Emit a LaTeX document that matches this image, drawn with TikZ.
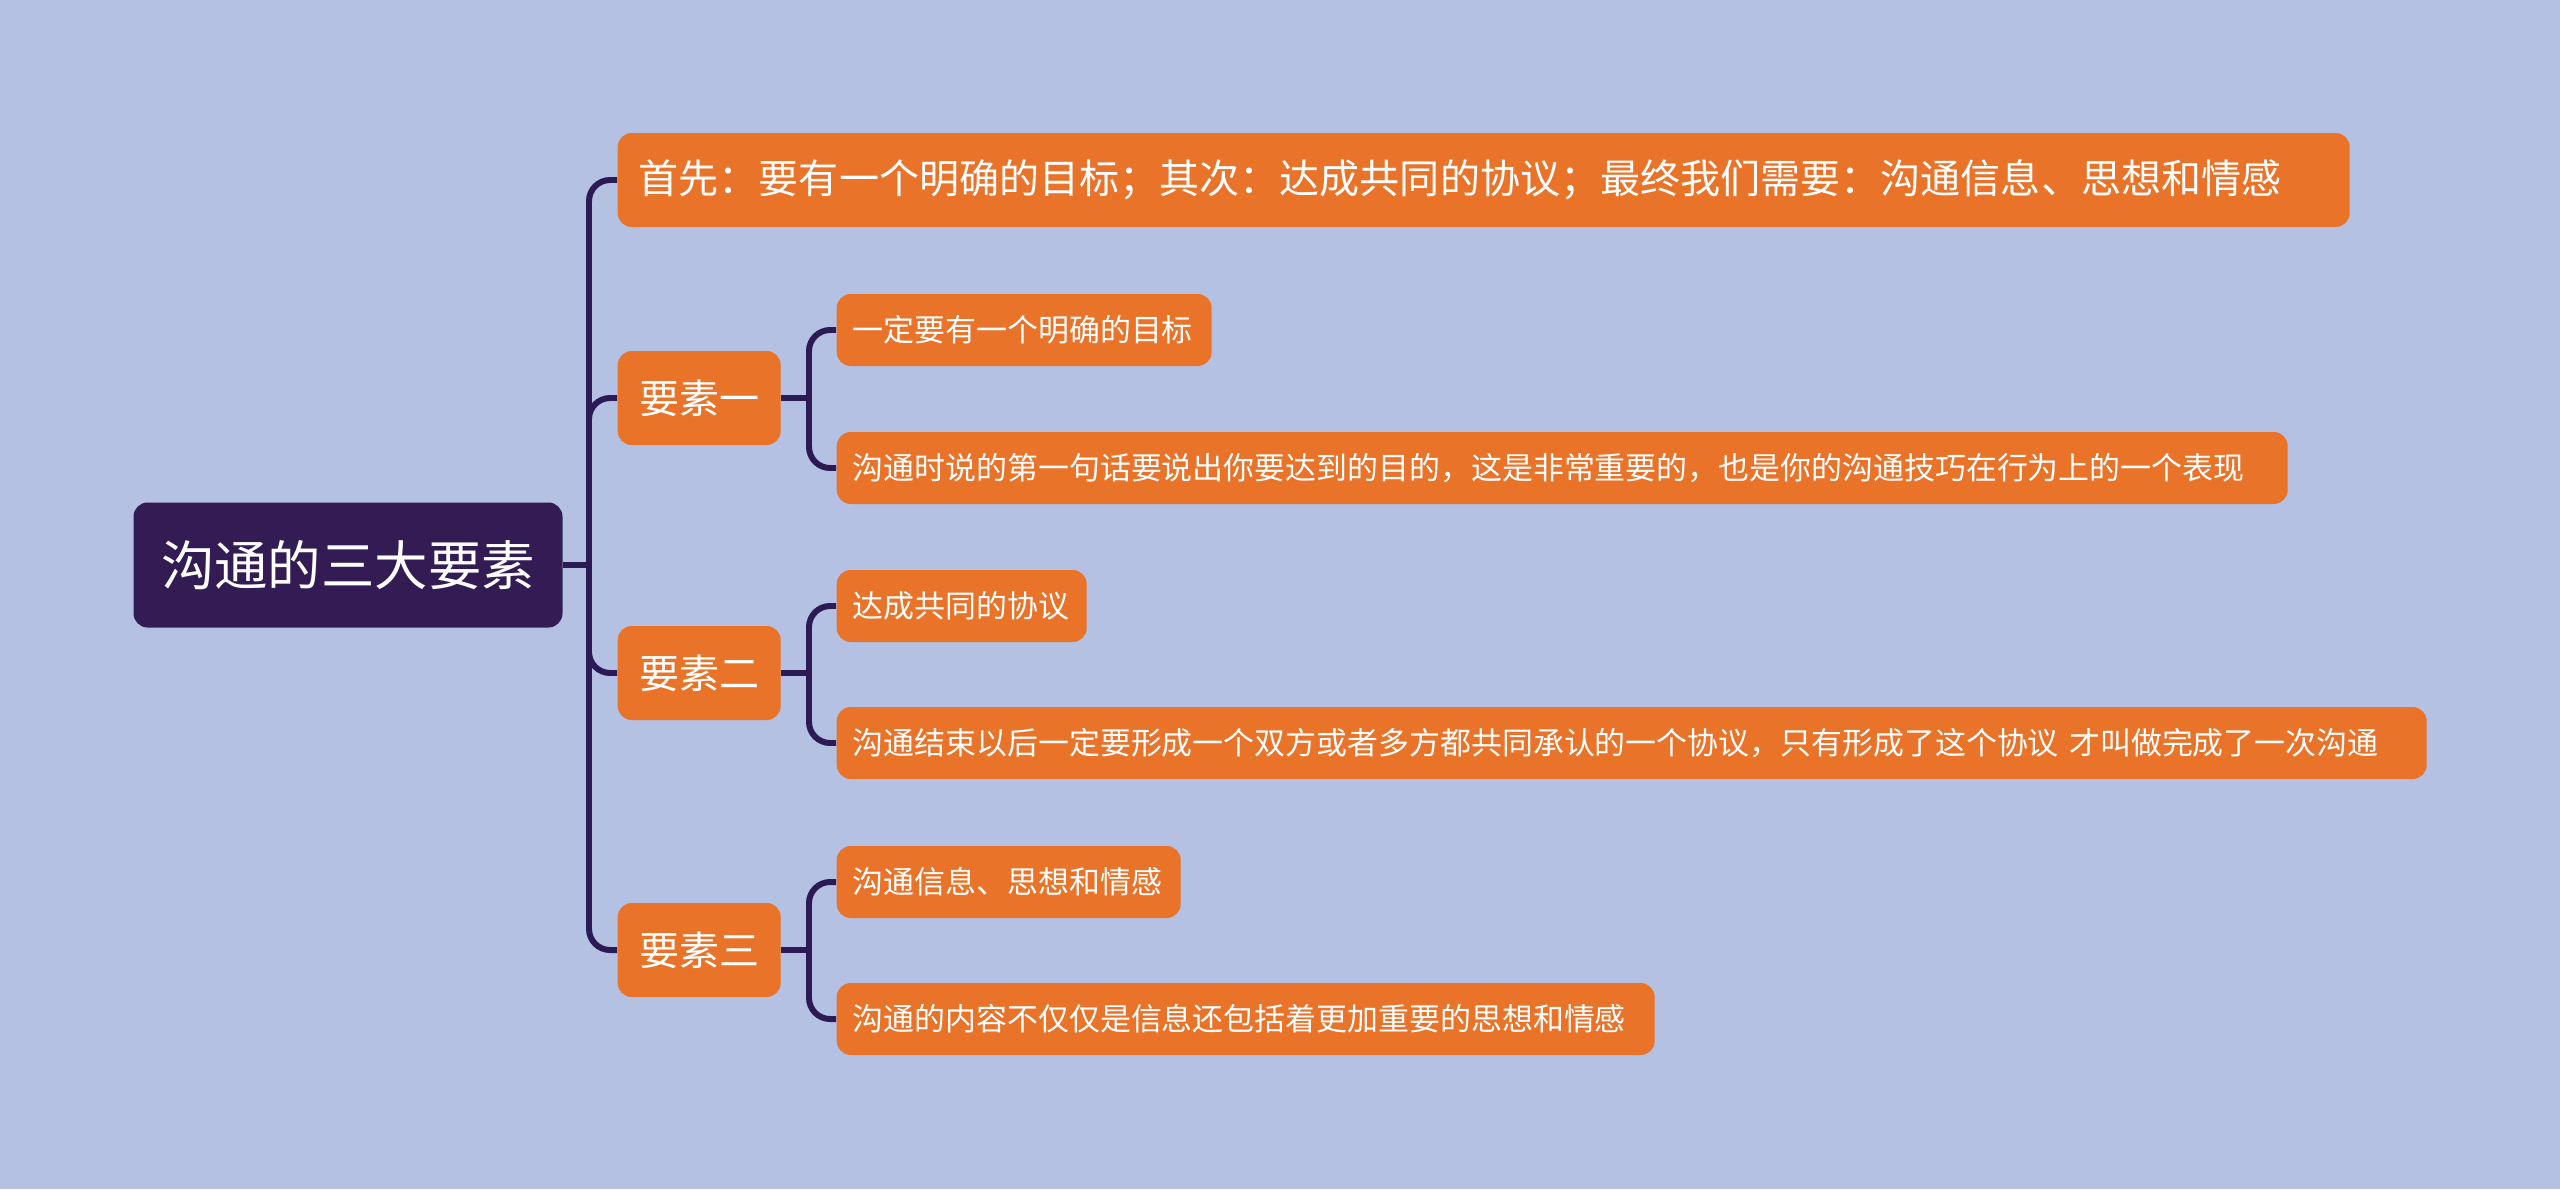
\documentclass[tikz,border=0pt]{standalone}
\usepackage{fontspec}
\usepackage{tikz}
\newfontfamily\cjk{Noto Sans CJK SC}
\definecolor{bgblue}{HTML}{B4C1E3}
\definecolor{mmorange}{HTML}{E97329}
\definecolor{mmpurple}{HTML}{331C53}
\definecolor{mmline}{HTML}{2C1A55}

\begin{document}
\begin{tikzpicture}[every node/.style={rounded corners=4pt, text=white, inner ysep=0pt, font=\cjk},
  rootbox/.style={fill=mmpurple, minimum width=4.29cm, minimum height=1.25cm, font=\cjk\fontsize{15.2}{18}\selectfont},
  topicbox/.style={fill=mmorange, anchor=west, inner xsep=0.21cm, minimum width=1.63cm, minimum height=0.94cm, font=\cjk\fontsize{11.4}{14}\selectfont},
  leafbox/.style={fill=mmorange, anchor=west, inner xsep=0.16cm, minimum height=0.72cm, align=left, font=\cjk\fontsize{8.8}{11}\selectfont},
  link/.style={draw=mmline, line width=1.7pt, rounded corners=6pt}]
\fill[bgblue] (0,0) rectangle (25.6,-11.89);
\node[rootbox] (root) at (3.48,-5.65) {沟通的三大要素};
\node[topicbox, text width=16.9cm, align=left] (t0) at (6.17,-1.80) {首先：要有一个明确的目标；其次：达成共同的协议；最终我们需要：沟通信息、思想和情感};
\node[topicbox] (t1) at (6.17,-3.98) {要素一};
\node[topicbox] (t2) at (6.17,-6.73) {要素二};
\node[topicbox] (t3) at (6.17,-9.50) {要素三};
\node[leafbox, text width=3.43cm] (t11) at (8.36,-3.30) {一定要有一个明确的目标};
\node[leafbox, text width=14.19cm] (t12) at (8.36,-4.68) {沟通时说的第一句话要说出你要达到的目的，这是非常重要的，也是你的沟通技巧在行为上的一个表现};
\node[leafbox, text width=2.18cm] (t21) at (8.36,-6.06) {达成共同的协议};
\node[leafbox, text width=15.58cm] (t22) at (8.36,-7.43) {沟通结束以后一定要形成一个双方或者多方都共同承认的一个协议，只有形成了这个协议~才叫做完成了一次沟通};
\node[leafbox, text width=3.12cm] (t31) at (8.36,-8.82) {沟通信息、思想和情感};
\node[leafbox, text width=7.86cm] (t32) at (8.36,-10.19) {沟通的内容不仅仅是信息还包括着更加重要的思想和情感};
\coordinate (hub) at (5.89,-5.65);
\coordinate (h1) at (8.09,-3.98);
\coordinate (h2) at (8.09,-6.73);
\coordinate (h3) at (8.09,-9.50);
\draw[link] (root.east) -- (hub);
\draw[link] (hub) |- (t0.west);
\draw[link] (hub) |- (t1.west);
\draw[link] (hub) |- (t2.west);
\draw[link] (hub) |- (t3.west);
\draw[link] (t1.east) -- (h1);
\draw[link] (h1) |- (t11.west);
\draw[link] (h1) |- (t12.west);
\draw[link] (t2.east) -- (h2);
\draw[link] (h2) |- (t21.west);
\draw[link] (h2) |- (t22.west);
\draw[link] (t3.east) -- (h3);
\draw[link] (h3) |- (t31.west);
\draw[link] (h3) |- (t32.west);
\end{tikzpicture}
\end{document}
